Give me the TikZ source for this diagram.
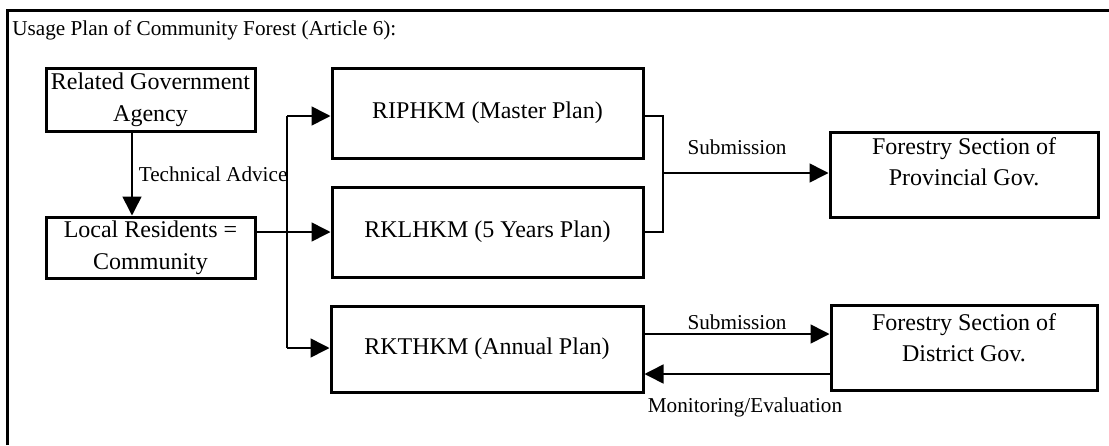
\documentclass[tikz,border=0pt]{standalone}
\usepackage{fontspec}
\setmainfont{Liberation Serif}
\usetikzlibrary{positioning,arrows.meta}

\begin{document}
\begin{tikzpicture}[x=0.5pt,y=-0.5pt,
  box/.style={draw, line width=1.5pt, inner sep=0pt, align=center, font=\fontsize{12}{15.5}\selectfont},
  lbl/.style={inner sep=0pt, font=\fontsize{10.6}{12}\selectfont},
  con/.style={line width=0.8pt},
  arr/.style={line width=0.8pt, -{Triangle[length=9.5pt,width=9.5pt]}}]
\useasboundingbox (0,0) rectangle (1109,445);
% outer frame and title
\draw[line width=1.5pt] (7,445) -- (7,10.5) -- (1109,10.5);
\node[lbl, anchor=west] (title) at (12,30) {Usage Plan of Community Forest (Article 6):};

% left column
\node[box, minimum width=104.5pt, minimum height=31.5pt, font=\fontsize{12}{16}\selectfont] (rga) at (150.5,99.5) {Related Government\\Agency};
\node[box, minimum width=104.5pt, minimum height=30.5pt, font=\fontsize{12}{16}\selectfont] (lr) at (150.5,247.5) {Local Residents =\\Community};

% plans
\node[box, minimum width=155.5pt, minimum height=45pt] (rip) at (487.5,113) {RIPHKM (Master Plan)};
\node[box, minimum width=155.5pt, minimum height=45pt] (rkl) at (487.5,232) {RKLHKM (5 Years Plan)};
\node[box, minimum width=156pt, minimum height=43pt] (rkt) at (487,349) {RKTHKM (Annual Plan)};

% government sections
\node[box, minimum width=134pt, minimum height=42.5pt, text depth=12.5pt] (prov) at (964,174.5) {Forestry Section of\\Provincial Gov.};
\node[box, minimum width=133pt, minimum height=42.5pt, text depth=9.5pt] (dist) at (964,347.5) {Forestry Section of\\District Gov.};

\coordinate (bustop) at (287,116);
\coordinate (busbot) at (287,348);
\coordinate (brk) at (663,173);

\draw[arr] ([xshift=-9.25pt]rga.south) -- ([xshift=-9.25pt]lr.north) node[midway, right, lbl, xshift=3pt] (ta) {Technical Advice};
\draw[con] (bustop) -- (busbot);
\draw[arr] (bustop) -- (bustop -| rip.west);
\draw[arr] (lr.east |- rkl.west) -- (rkl.west);
\draw[arr] (busbot) -- (busbot -| rkt.west);

\draw[con] ([yshift=-1.5pt]rip.east) -| (brk) |- (rkl.east);
\draw[arr] (brk) -- (brk -| prov.west);
\node[lbl] (sub1) at (737,147) {Submission};

\draw[arr] ([yshift=7.5pt]rkt.east) -- ([yshift=7.5pt]rkt.east -| dist.west);
\node[lbl] (sub2) at (737,322) {Submission};
\draw[arr] ([yshift=-13.25pt]dist.west) -- ([yshift=-13.25pt]dist.west -| rkt.east);
\node[lbl] (mon) at (745,407) {Monitoring/Evaluation};
\end{tikzpicture}
\end{document}
